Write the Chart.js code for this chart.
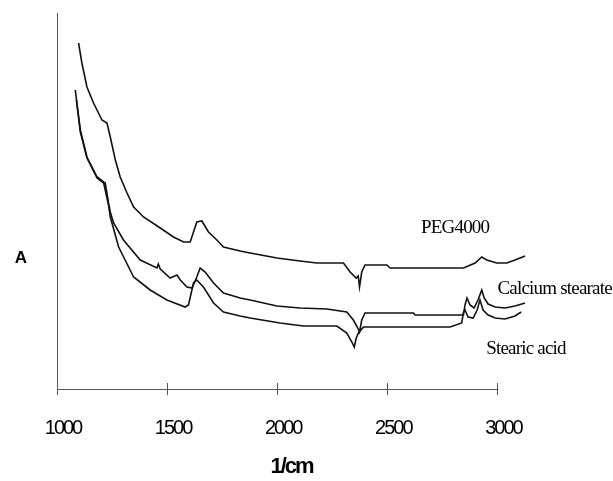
<!DOCTYPE html>
<html>
<head>
<meta charset="utf-8">
<script src="https://cdn.jsdelivr.net/npm/chart.js@4/dist/chart.umd.min.js"></script>
<style>
  html, body { margin: 0; padding: 0; background: #fff; }
  #wrap { width: 613px; height: 481px; }
</style>
</head>
<body>
<div id="wrap"><canvas id="ir-chart"></canvas></div>
<script>
const xTicks = [1000, 1500, 2000, 2500, 3000];

const pegX = [1098, 1113, 1136, 1166, 1204, 1227, 1242, 1265, 1287, 1318, 1348, 1393, 1469, 1529, 1575, 1605, 1635, 1658, 1688, 1726, 1756, 1832, 1877, 1999, 2104, 2180, 2301, 2331, 2359, 2368, 2374, 2384, 2399, 2498, 2513, 2846, 2899, 2929, 2952, 2997, 3043, 3080, 3126];
const pegY = [3.46, 3.26, 3.02, 2.86, 2.69, 2.66, 2.52, 2.29, 2.12, 1.96, 1.82, 1.72, 1.61, 1.52, 1.47, 1.47, 1.67, 1.68, 1.57, 1.49, 1.42, 1.38, 1.36, 1.31, 1.28, 1.26, 1.26, 1.17, 1.11, 1.13, 1.02, 1.17, 1.24, 1.24, 1.21, 1.21, 1.26, 1.32, 1.29, 1.26, 1.26, 1.29, 1.33];

const caX = [1083, 1106, 1136, 1182, 1212, 1219, 1234, 1242, 1257, 1302, 1378, 1454, 1460, 1469, 1514, 1545, 1560, 1590, 1613, 1635, 1650, 1673, 1711, 1756, 1832, 1877, 1999, 2104, 2226, 2316, 2346, 2366, 2374, 2384, 2399, 2619, 2626, 2846, 2853, 2862, 2876, 2894, 2912, 2929, 2940, 2958, 2990, 3035, 3080, 3126];
const caY = [2.99, 2.59, 2.32, 2.12, 2.07, 2.06, 1.86, 1.77, 1.66, 1.49, 1.29, 1.21, 1.25, 1.20, 1.11, 1.14, 1.09, 1.02, 1.01, 1.12, 1.21, 1.17, 1.06, 0.96, 0.91, 0.89, 0.83, 0.81, 0.80, 0.77, 0.69, 0.61, 0.57, 0.69, 0.76, 0.76, 0.74, 0.74, 0.84, 0.91, 0.84, 0.81, 0.89, 0.99, 0.91, 0.85, 0.82, 0.81, 0.83, 0.86];

const saX = [1088, 1106, 1136, 1182, 1212, 1234, 1242, 1280, 1348, 1423, 1499, 1582, 1597, 1620, 1635, 1665, 1711, 1756, 1832, 1877, 2013, 2119, 2271, 2316, 2339, 2350, 2359, 2369, 2392, 2785, 2838, 2846, 2853, 2867, 2890, 2908, 2921, 2935, 2958, 2990, 3035, 3080, 3108];
const saY = [2.89, 2.57, 2.31, 2.11, 2.06, 1.84, 1.72, 1.42, 1.12, 0.99, 0.89, 0.82, 0.84, 1.06, 1.09, 1.02, 0.86, 0.77, 0.73, 0.71, 0.66, 0.63, 0.63, 0.56, 0.47, 0.42, 0.51, 0.56, 0.62, 0.62, 0.66, 0.77, 0.79, 0.72, 0.71, 0.79, 0.89, 0.79, 0.74, 0.71, 0.70, 0.73, 0.77];

// series label: text, x value, y value (label anchor in data units)
const seriesLabels = [
    { text: 'PEG4000', x: 2808, y: 1.61 },
    { text: 'Calcium stearate', x: 3260, y: 1.00 },
    { text: 'Stearic acid', x: 3130, y: 0.40 }
];

function toPoints(xs, ys) {
    return xs.map((x, i) => ({ x: x, y: ys[i] }));
}

function lineSet(label, xs, ys) {
    return {
        label: label,
        data: toPoints(xs, ys),
        borderColor: '#111',
        borderWidth: 1.6,
        pointRadius: 0,
        tension: 0,
        fill: false
    };
}

const axisPlugin = {
    id: 'axisPlugin',
    beforeDraw(chart) {
        chart.ctx.letterSpacing = '-2px';
    },
    afterDraw(chart) {
        const ctx = chart.ctx;
        const xs = chart.scales.x;
        const ys = chart.scales.y;
        const area = chart.chartArea;
        const x0 = xs.getPixelForValue(xTicks[0]);
        const x1 = xs.getPixelForValue(xTicks[xTicks.length - 1]);
        const yb = ys.getPixelForValue(0);

        ctx.save();
        ctx.strokeStyle = '#555';
        ctx.lineWidth = 1;
        ctx.beginPath();
        ctx.moveTo(Math.round(x0) + 0.5, area.top);
        ctx.lineTo(Math.round(x0) + 0.5, yb);
        ctx.moveTo(x0, Math.round(yb) + 0.5);
        ctx.lineTo(x1, Math.round(yb) + 0.5);
        xTicks.forEach(t => {
            const px = Math.round(xs.getPixelForValue(t)) + 0.5;
            ctx.moveTo(px, yb - 6);
            ctx.lineTo(px, yb + 6);
        });
        ctx.stroke();

        ctx.fillStyle = '#000';
        ctx.letterSpacing = '-0.8px';
        ctx.font = '19px "Liberation Serif", "Times New Roman", serif';
        ctx.textAlign = 'center';
        ctx.textBaseline = 'middle';
        seriesLabels.forEach(l => {
            ctx.fillText(l.text, xs.getPixelForValue(l.x), ys.getPixelForValue(l.y));
        });

        ctx.letterSpacing = '0px';
        ctx.font = 'bold 17px "Liberation Sans", Arial, sans-serif';
        ctx.fillText('A', 21, ys.getPixelForValue(1.31));
        ctx.restore();
    }
};

document.addEventListener("DOMContentLoaded", function() {
    const ctx = document.getElementById('ir-chart').getContext('2d');
    new Chart(ctx, {
        type: 'line',
        data: {
            datasets: [
                lineSet('PEG4000', pegX, pegY),
                lineSet('Calcium stearate', caX, caY),
                lineSet('Stearic acid', saX, saY)
            ]
        },
        options: {
            responsive: true,
            maintainAspectRatio: false,
            animation: false,
            layout: { padding: { left: 57, right: 87, top: 13, bottom: 0 } },
            plugins: {
                legend: { display: false },
                tooltip: { enabled: false }
            },
            scales: {
                x: {
                    type: 'linear',
                    min: 1000,
                    max: 3130,
                    afterBuildTicks: scale => {
                        scale.ticks = xTicks.map(v => ({ value: v }));
                    },
                    afterFit: scale => {
                        scale.height = 92;
                    },
                    grid: { display: false, drawTicks: false },
                    border: { display: false },
                    ticks: {
                        color: '#000',
                        padding: 27,
                        labelOffset: 6,
                        maxRotation: 0,
                        autoSkip: false,
                        callback: v => String(v),
                        font: { family: '"Liberation Sans", Arial, sans-serif', size: 20 }
                    },
                    title: {
                        display: true,
                        text: '1/cm',
                        color: '#000',
                        padding: { top: 14, bottom: 1 },
                        font: { family: '"Liberation Sans", Arial, sans-serif', size: 22, weight: 'bold' }
                    }
                },
                y: {
                    display: false,
                    min: 0,
                    max: 3.76
                }
            }
        },
        plugins: [axisPlugin]
    });
});
</script>
</body>
</html>
